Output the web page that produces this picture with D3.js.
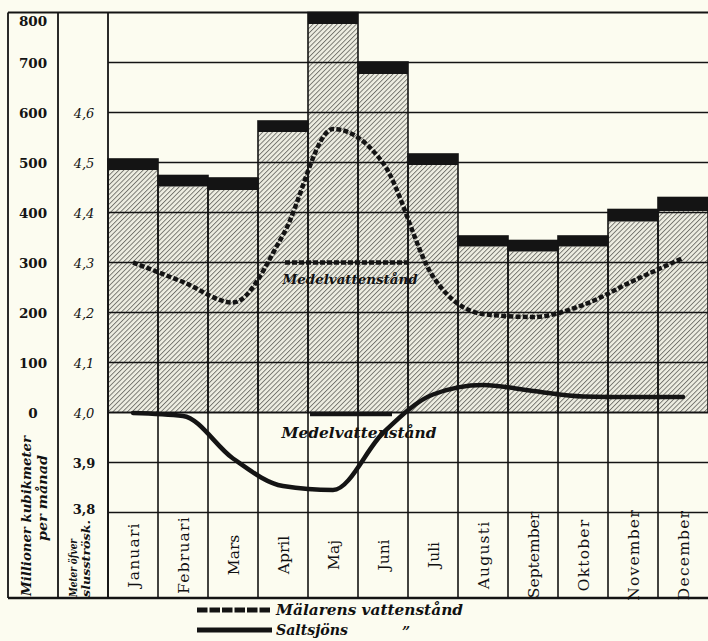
<!DOCTYPE html>
<html>
<head>
<meta charset="utf-8">
<script src="https://cdn.jsdelivr.net/npm/d3@7"></script>
<style>
  html, body { margin: 0; padding: 0; background: #fcfcf0; }
  svg { display: block; }
  text { font-family: "DejaVu Serif", "Liberation Serif", serif; fill: #111; }
</style>
</head>
<body>
<svg id="chart" width="708" height="641"></svg>
<script>
// ---------- data ----------
const months = ["Januari","Februari","Mars","April","Maj","Juni","Juli","Augusti","September","Oktober","November","December"];
// discharge, million m³ per month (hatched part and black cap on top)
const hatchedValues = [485, 452, 445, 561, 777, 677, 495, 332, 322, 332, 382, 403];
const capValues     = [22, 22, 24, 22, 23, 24, 22, 21, 22, 21, 24, 27];
// water levels, metres above lock sill
const malarenLevel  = [4.30, 4.261, 4.22, 4.355, 4.567, 4.499, 4.272, 4.197, 4.191, 4.215, 4.263, 4.309];
const saltsjonLevel = [3.999, 3.993, 3.908, 3.853, 3.845, 3.959, 4.036, 4.055, 4.043, 4.032, 4.031, 4.031];
const meanMalaren = 4.3;
const meanSaltsjon = 4.0;
const volumeTicks = [0, 100, 200, 300, 400, 500, 600, 700, 800];
const levelTicks = [3.8, 3.9, 4.0, 4.1, 4.2, 4.3, 4.4, 4.5, 4.6];
const levelTickLabels = ["3,8","3,9","4,0","4,1","4,2","4,3","4,4","4,5","4,6"];
const legendLabels = ["Mälarens vattenstånd", "Saltsjöns"];
const meanLabel = "Medelvattenstånd";
const volumeTitle = ["Millioner kubikmeter", "per månad"];
const levelTitle = ["Meter öfver", "slusströsk."];

// ---------- layout ----------
const svg = d3.select("#chart");
const X0 = 8, X1 = 58, X2 = 108, XR = 708, YT = 12.5, YB = 598;
const x = d3.scaleBand().domain(months).range([X2, XR]).padding(0);
const yV = d3.scaleLinear().domain([0, 800]).range([412.5, 12.5]);
const yL = d3.scaleLinear().domain([3.8, 4.6]).range([512.5, 112.5]);
const ink = "#141414";

const defs = svg.append("defs");
const pat = defs.append("pattern").attr("id", "hatch")
  .attr("patternUnits", "userSpaceOnUse").attr("width", 3.4).attr("height", 3.4)
  .attr("patternTransform", "rotate(45)");
pat.append("rect").attr("width", 3.4).attr("height", 3.4).attr("fill", "#eeeee2");
pat.append("line").attr("x1", 0.5).attr("x2", 0.5).attr("y1", 0).attr("y2", 3.4)
  .attr("stroke", "#666660").attr("stroke-width", 0.85);

svg.append("rect").attr("width", 708).attr("height", 641).attr("fill", "#fcfcf0");

const data = months.map((m, i) => ({ m, h: hatchedValues[i], c: capValues[i] }));

// hatched bars
svg.append("g").selectAll("rect").data(data).join("rect")
  .attr("x", d => x(d.m)).attr("width", x.bandwidth())
  .attr("y", d => yV(d.h)).attr("height", d => yV(0) - yV(d.h))
  .attr("fill", "url(#hatch)");
// black caps
svg.append("g").selectAll("rect").data(data).join("rect")
  .attr("x", d => x(d.m)).attr("width", x.bandwidth())
  .attr("y", d => yV(d.h + d.c)).attr("height", d => yV(d.h) - yV(d.h + d.c))
  .attr("fill", ink);

// horizontal grid lines (plot area)
const grid = svg.append("g").attr("stroke", ink).attr("stroke-width", 1.6);
volumeTicks.filter(v => v < 800).forEach(v => {
  grid.append("line").attr("x1", X2).attr("x2", XR).attr("y1", yV(v)).attr("y2", yV(v));
});
[3.9, 3.8].forEach(v => {
  grid.append("line").attr("x1", X2).attr("x2", XR).attr("y1", yL(v)).attr("y2", yL(v));
});
// vertical month lines below zero
months.forEach(m => {
  grid.append("line").attr("x1", x(m)).attr("x2", x(m)).attr("y1", yV(0)).attr("y2", YB);
});
// bar outlines
svg.append("g").selectAll("rect").data(data).join("rect")
  .attr("x", d => x(d.m)).attr("width", x.bandwidth())
  .attr("y", d => yV(d.h + d.c)).attr("height", d => yV(0) - yV(d.h + d.c))
  .attr("fill", "none").attr("stroke", ink).attr("stroke-width", 1.6);

// frame
const frame = svg.append("g").attr("stroke", ink).attr("stroke-width", 1.8);
frame.append("line").attr("x1", X0).attr("x2", XR).attr("y1", YT).attr("y2", YT);
frame.append("line").attr("x1", X0).attr("x2", XR).attr("y1", YB).attr("y2", YB).attr("stroke-width", 2.4);
[X0, X1, X2].forEach(xx => frame.append("line").attr("x1", xx).attr("x2", xx).attr("y1", YT).attr("y2", YB));

// mean level markers
const bandX = [x("April") + 27, x("Juni") + 50];
svg.append("line").attr("x1", bandX[0]).attr("x2", bandX[1])
  .attr("y1", yL(meanMalaren)).attr("y2", yL(meanMalaren))
  .attr("stroke", ink).attr("stroke-width", 4.5).attr("stroke-dasharray", "5,2");
svg.append("line").attr("x1", x("Maj") + 2).attr("x2", x("Juni") + 34)
  .attr("y1", yL(meanSaltsjon) + 1.5).attr("y2", yL(meanSaltsjon) + 1.5)
  .attr("stroke", ink).attr("stroke-width", 4.5);

svg.append("text").text(meanLabel)
  .attr("x", x("Maj") + 42).attr("y", yL(meanMalaren) + 21)
  .attr("text-anchor", "middle").attr("font-style", "italic").attr("font-weight", "bold")
  .attr("font-size", 13.5).attr("textLength", 135).attr("lengthAdjust", "spacingAndGlyphs");
svg.append("text").text(meanLabel)
  .attr("x", x("Maj") + 51).attr("y", yL(meanSaltsjon) + 25)
  .attr("text-anchor", "middle").attr("font-style", "italic").attr("font-weight", "bold")
  .attr("font-size", 15).attr("textLength", 155).attr("lengthAdjust", "spacingAndGlyphs");

// level curves
const cx = m => x(m) + x.bandwidth() / 2;
const line = d3.line().x(d => cx(d.m)).y(d => yL(d.v)).curve(d3.curveMonotoneX);
svg.append("path").datum(months.map((m, i) => ({ m, v: malarenLevel[i] })))
  .attr("d", line).attr("fill", "none").attr("stroke", ink)
  .attr("stroke-width", 4.5).attr("stroke-dasharray", "5,2.2");
svg.append("path").datum(months.map((m, i) => ({ m, v: saltsjonLevel[i] })))
  .attr("d", line).attr("fill", "none").attr("stroke", ink)
  .attr("stroke-width", 4.5).attr("stroke-linecap", "round");

// left axis: volume
const axV = svg.append("g").attr("transform", `translate(${(X0 + X1) / 2},0)`)
  .call(d3.axisRight(yV).tickValues(volumeTicks).tickSize(0).tickPadding(0));
axV.select(".domain").remove();
axV.selectAll("text")
  .attr("x", 0).attr("text-anchor", "middle")
  .attr("dy", d => d === 800 ? "0.95em" : "0.35em")
  .style("font-family", "DejaVu Serif").style("font-weight", "bold").style("font-size", "13.5px")
  .style("fill", ink);

// second axis: level
const axL = svg.append("g").attr("transform", `translate(${(X1 + X2) / 2 + 1},0)`)
  .call(d3.axisRight(yL).tickValues(levelTicks).tickSize(0).tickPadding(0)
    .tickFormat((d, i) => levelTickLabels[i]));
axL.select(".domain").remove();
axL.selectAll("text")
  .attr("x", 0).attr("text-anchor", "middle")
  .attr("dy", d => d === 3.8 ? "0.1em" : "0.35em")
  .style("font-family", "DejaVu Serif")
  .style("font-style", d => d < 4.0 ? "normal" : "italic")
  .style("font-weight", d => d < 4.0 ? "bold" : "normal")
  .style("font-size", "13px").style("fill", ink);

// axis titles
const t1 = svg.append("g");
t1.append("text").text(volumeTitle[0])
  .attr("transform", `translate(31,516) rotate(-90)`).attr("text-anchor", "middle")
  .attr("font-style", "italic").attr("font-weight", "bold").attr("font-size", 13.5)
  .attr("textLength", 160).attr("lengthAdjust", "spacingAndGlyphs");
t1.append("text").text(volumeTitle[1])
  .attr("transform", `translate(47,498) rotate(-90)`).attr("text-anchor", "middle")
  .attr("font-style", "italic").attr("font-weight", "bold").attr("font-size", 13.5)
  .attr("textLength", 86).attr("lengthAdjust", "spacingAndGlyphs");
t1.append("text").text(levelTitle[0])
  .attr("transform", `translate(77,597) rotate(-90)`).attr("text-anchor", "start")
  .attr("font-style", "italic").attr("font-weight", "bold").attr("font-size", 11)
  .attr("textLength", 58).attr("lengthAdjust", "spacingAndGlyphs");
t1.append("text").text(levelTitle[1])
  .attr("transform", `translate(90,597) rotate(-90)`).attr("text-anchor", "start")
  .attr("font-style", "italic").attr("font-weight", "bold").attr("font-size", 11)
  .attr("textLength", 77).attr("lengthAdjust", "spacingAndGlyphs");

// month labels
svg.append("g").selectAll("text").data(months).join("text")
  .text(d => d)
  .attr("transform", d => `translate(${cx(d) + 6},555) rotate(-90)`)
  .attr("text-anchor", "middle").attr("font-size", 15.5)
  .attr("letter-spacing", d => d.length >= 7 && d.length <= 8 ? 1.2 : 0);

// legend
const lg = svg.append("g");
lg.append("line").attr("x1", 197).attr("x2", 272).attr("y1", 610).attr("y2", 610)
  .attr("stroke", ink).attr("stroke-width", 5).attr("stroke-dasharray", "10.5,2");
lg.append("line").attr("x1", 197).attr("x2", 272).attr("y1", 630).attr("y2", 630)
  .attr("stroke", ink).attr("stroke-width", 5);
lg.append("text").text(legendLabels[0]).attr("x", 276).attr("y", 615)
  .attr("font-style", "italic").attr("font-weight", "bold").attr("font-size", 15.5)
  .attr("textLength", 187).attr("lengthAdjust", "spacingAndGlyphs");
lg.append("text").text(legendLabels[1]).attr("x", 276).attr("y", 635)
  .attr("font-style", "italic").attr("font-weight", "bold").attr("font-size", 15.5)
  .attr("textLength", 72).attr("lengthAdjust", "spacingAndGlyphs");
lg.append("text").text("\u201D").attr("x", 402).attr("y", 637)
  .attr("font-style", "italic").attr("font-weight", "bold").attr("font-size", 14);
</script>
</body>
</html>
